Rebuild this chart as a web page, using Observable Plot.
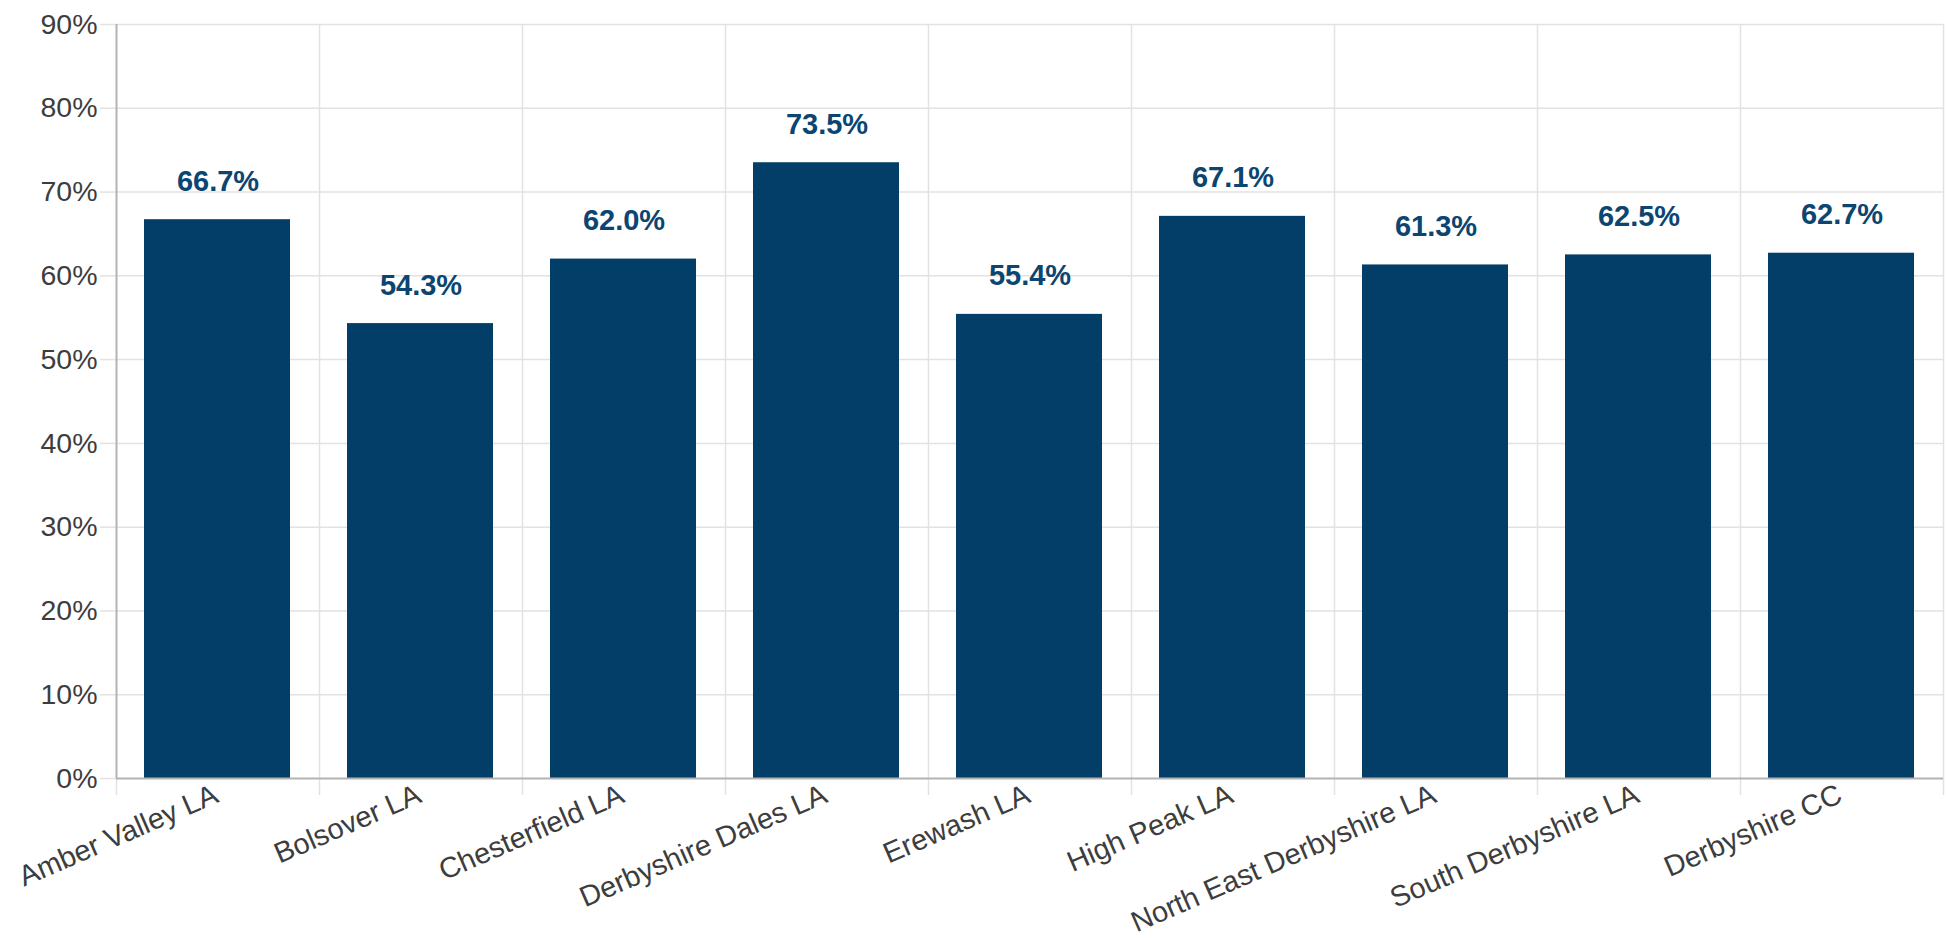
<!DOCTYPE html>
<html>
<head>
<meta charset="utf-8">
<script src="https://cdn.jsdelivr.net/npm/d3@7"></script>
<script src="https://cdn.jsdelivr.net/npm/@observablehq/plot@0.6"></script>
<style>
  html, body { margin: 0; padding: 0; background: #ffffff; }
  #chart svg { display: block; }
</style>
</head>
<body>
<div id="chart"></div>
<script>
const categories = [
  "Amber Valley LA",
  "Bolsover LA",
  "Chesterfield LA",
  "Derbyshire Dales LA",
  "Erewash LA",
  "High Peak LA",
  "North East Derbyshire LA",
  "South Derbyshire LA",
  "Derbyshire CC"
];
const values = [66.7, 54.3, 62.0, 73.5, 55.4, 67.1, 61.3, 62.5, 62.7];
const yTicks = [0, 10, 20, 30, 40, 50, 60, 70, 80, 90];

const data = categories.map((name, i) => ({name, i, value: values[i]}));
const boundaries = d3.range(categories.length + 1);

const BAR = "#023e67";
const LABEL = "#0b4570";
const GRID = "#e2e2e2";
const AXIS = "#b3b3b3";
const TEXT = "#3d3d3d";
const FONT = "'Liberation Sans', Arial, sans-serif";

const chart = Plot.plot({
  width: 1946,
  height: 941,
  marginLeft: 116,
  marginRight: 3,
  marginTop: 24,
  marginBottom: 163,
  x: {domain: [0, categories.length], axis: null, label: null},
  y: {domain: [0, 90], axis: null, label: null},
  style: {fontFamily: FONT, fontSize: "29px", background: "#ffffff", color: TEXT},
  marks: [
    Plot.gridY(yTicks.slice(1), {stroke: GRID, strokeOpacity: 1, strokeWidth: 1.5}),
    Plot.gridX(boundaries.slice(1), {stroke: GRID, strokeOpacity: 1, strokeWidth: 1.5}),
    Plot.axisY(yTicks, {
      label: null, tickSize: 16, tickPadding: 3, stroke: GRID, strokeWidth: 1.5,
      fill: TEXT, fontSize: 28.5, tickFormat: d => d + "%"
    }),
    Plot.axisX(boundaries, {
      label: null, tickSize: 17, stroke: GRID, strokeWidth: 1.5, tickFormat: () => ""
    }),
    Plot.rectY(data, {
      x1: d => d.i, x2: d => d.i + 1, y1: 0, y2: "value",
      insetLeft: 28, insetRight: 29, fill: BAR
    }),
    Plot.text(data, {
      x: d => d.i + 0.5, y: "value", text: d => d.value.toFixed(1) + "%",
      lineAnchor: "bottom", dy: -29, fill: LABEL, fontWeight: "bold", fontSize: 29
    }),
    Plot.ruleY([0], {stroke: AXIS, strokeWidth: 2}),
    Plot.ruleX([0], {stroke: AXIS, strokeWidth: 2}),
    Plot.text(data, {
      x: d => d.i + 0.5, y: () => 0, text: "name",
      rotate: -23.5, textAnchor: "end", lineAnchor: "bottom",
      dx: 2, dy: 23, fill: TEXT, fontSize: 29
    })
  ]
});

document.getElementById("chart").appendChild(chart);
</script>
</body>
</html>
